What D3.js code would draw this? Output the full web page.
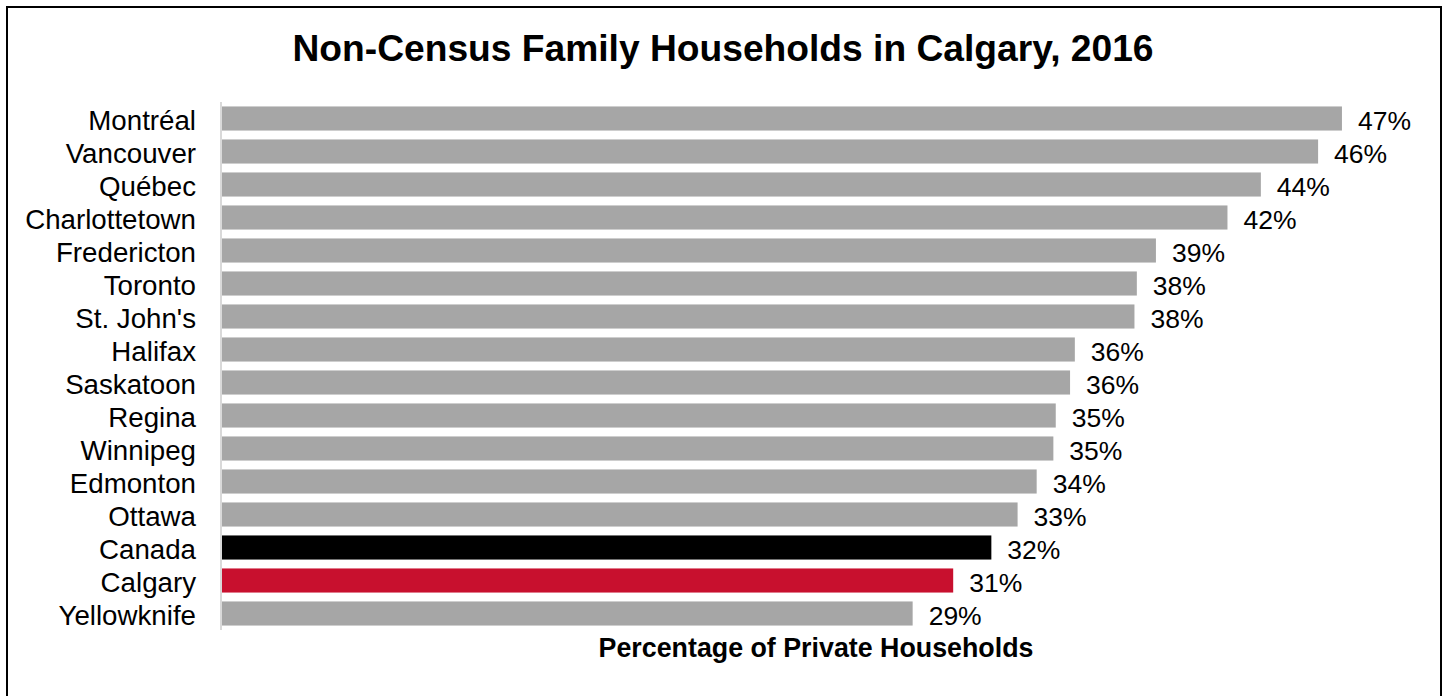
<!DOCTYPE html>
<html>
<head>
<meta charset="utf-8">
<script src="https://cdn.jsdelivr.net/npm/d3@7"></script>
<style>
html,body{margin:0;padding:0;background:#fff;}
svg{display:block;}
</style>
</head>
<body>
<svg id="chart" width="1445" height="696"></svg>
<script>
const cities = ["Montréal","Vancouver","Québec","Charlottetown","Fredericton","Toronto","St. John's","Halifax","Saskatoon","Regina","Winnipeg","Edmonton","Ottawa","Canada","Calgary","Yellowknife"];
const values = [47.0,46.0,43.6,42.2,39.2,38.4,38.3,35.8,35.6,35.0,34.9,34.2,33.4,32.3,30.7,29.0];
const barColors = {"Canada":"#000000","Calgary":"#c8102e"};
const defaultColor = "#a6a6a6";
const titleText = "Non-Census Family Households in Calgary, 2016";
const xAxisTitle = "Percentage of Private Households";

const svg = d3.select("#chart");
const font = "'Liberation Sans', Arial, sans-serif";

// outer border
svg.append("rect").attr("x",7).attr("y",7).attr("width",1434).attr("height",720)
  .attr("fill","none").attr("stroke","#000").attr("stroke-width",2);

const x = d3.scaleLinear().domain([0,50]).range([221, 221 + 50*23.85]);
const y = d3.scaleBand().domain(cities).range([102,630]).paddingInner(0.27).paddingOuter(0.135);

svg.append("text").attr("x",723).attr("y",61).attr("text-anchor","middle")
  .attr("font-family",font).attr("font-weight","bold").attr("font-size",37.2).text(titleText);

const data = cities.map((c,i)=>({city:c, value:values[i]}));

svg.append("g").selectAll("rect").data(data).join("rect")
  .attr("x", x(0)).attr("y", d=>y(d.city))
  .attr("width", d=>x(d.value)-x(0)).attr("height", y.bandwidth())
  .attr("fill", d=>barColors[d.city] || defaultColor);

// axis line
svg.append("line").attr("x1",x(0)).attr("x2",x(0)).attr("y1",102).attr("y2",630)
  .attr("stroke","#d9d9d9").attr("stroke-width",2);

svg.append("g").selectAll("text").data(data).join("text")
  .attr("x", x(0)-25).attr("y", d=>y(d.city)+y.bandwidth()/2+11)
  .attr("text-anchor","end").attr("font-family",font).attr("font-size",27.7).attr("fill","#000")
  .text(d=>d.city);

const fmt = d3.format(".0f");
svg.append("g").selectAll("text").data(data).join("text")
  .attr("x", d=>x(d.value)+16).attr("y", d=>y(d.city)+y.bandwidth()/2+11)
  .attr("font-family",font).attr("font-size",26.5).attr("fill","#000")
  .text(d=>fmt(d.value)+"%");

svg.append("text").attr("x",816).attr("y",657).attr("text-anchor","middle")
  .attr("font-family",font).attr("font-weight","bold").attr("font-size",26.8).text(xAxisTitle);
</script>
</body>
</html>
